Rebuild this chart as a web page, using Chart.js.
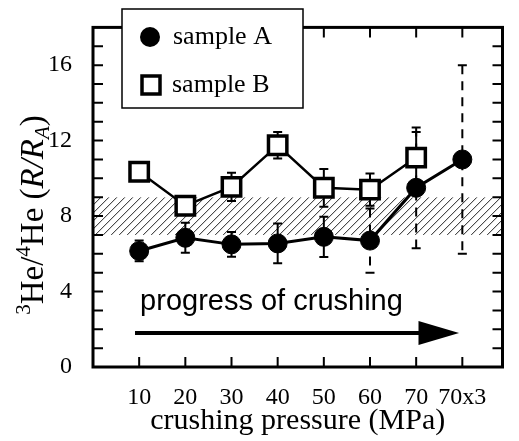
<!DOCTYPE html>
<html>
<head>
<meta charset="utf-8">
<script src="https://cdn.jsdelivr.net/npm/chart.js@4/dist/chart.umd.min.js"></script>
<style>
  body { margin: 0; background: #fff; }
  canvas { display: block; }
</style>
</head>
<body>
<canvas id="heChart" width="519" height="441"></canvas>
<script>
// crushing steps and measured 3He/4He ratios (R/RA)
const categories = ['10', '20', '30', '40', '50', '60', '70', '70x3'];
const sampleA = [6.15, 6.85, 6.5, 6.55, 6.9, 6.7, 9.5, 11.0];
const errA = [0.55, 0.8, 0.65, 1.05, 1.07, 1.7, 3.2, 5.0];
const dashedA = [false, false, false, false, false, true, true, true];
const sampleB = [10.35, 8.55, 9.55, 11.75, 9.5, 9.4, 11.1];
const errB = [0, 0, 0.75, 0.7, 1.0, 0.85, 1.35];
const yTicks = [0, 4, 8, 12, 16];
// atmospheric / MORB reference band
const bandLow = 7;
const bandHigh = 9;

const SERIF = "'Liberation Serif', 'Times New Roman', serif";
const SANS = "'Liberation Sans', Arial, sans-serif";

function toPoints(arr) {
    return arr.map(function (v, i) { return { x: i, y: v }; });
}

// hatch band + error bars, under the data
const underlayPlugin = {
    id: 'underlay',
    beforeDatasetsDraw: function (chart) {
        const ctx = chart.ctx;
        const area = chart.chartArea;
        const xs = chart.scales.x;
        const ys = chart.scales.y;

        // hatched band
        const yTop = ys.getPixelForValue(bandHigh);
        const yBot = ys.getPixelForValue(bandLow);
        ctx.save();
        ctx.beginPath();
        ctx.rect(area.left, yTop, area.right - area.left, yBot - yTop);
        ctx.clip();
        ctx.strokeStyle = '#222';
        ctx.lineWidth = 1;
        const h = yBot - yTop;
        for (let x = area.left - h; x < area.right + h; x += 8) {
            ctx.beginPath();
            ctx.moveTo(x, yBot);
            ctx.lineTo(x + h, yTop);
            ctx.stroke();
        }
        ctx.restore();

        // error bars
        function bar(i, v, e, dashed) {
            if (!e) return;
            const px = xs.getPixelForValue(i);
            const p1 = ys.getPixelForValue(v + e);
            const p2 = ys.getPixelForValue(v - e);
            ctx.save();
            ctx.strokeStyle = '#000';
            ctx.lineWidth = 2;
            ctx.setLineDash(dashed ? [9, 7] : []);
            ctx.beginPath();
            ctx.moveTo(px, p1);
            ctx.lineTo(px, p2);
            ctx.stroke();
            ctx.setLineDash([]);
            ctx.beginPath();
            ctx.moveTo(px - 4.5, p1); ctx.lineTo(px + 4.5, p1);
            ctx.moveTo(px - 4.5, p2); ctx.lineTo(px + 4.5, p2);
            ctx.stroke();
            ctx.restore();
        }
        sampleB.forEach(function (v, i) { bar(i, v, errB[i], false); });
        sampleA.forEach(function (v, i) { bar(i, v, errA[i], dashedA[i]); });

        // arrow + caption
        const ay = ys.getPixelForValue(1.8);
        const ax0 = xs.getPixelForValue(-0.09);
        const ax1 = xs.getPixelForValue(6.93);
        const ah = xs.getPixelForValue(6.05);
        ctx.save();
        ctx.fillStyle = '#000';
        ctx.strokeStyle = '#000';
        ctx.lineWidth = 4;
        ctx.beginPath();
        ctx.moveTo(ax0, ay);
        ctx.lineTo(ah + 2, ay);
        ctx.stroke();
        ctx.beginPath();
        ctx.moveTo(ah, ay - 12);
        ctx.lineTo(ax1, ay);
        ctx.lineTo(ah, ay + 12);
        ctx.closePath();
        ctx.fill();
        ctx.font = '29px ' + SANS;
        ctx.textBaseline = 'alphabetic';
        ctx.textAlign = 'left';
        ctx.fillText('progress of crushing', xs.getPixelForValue(0.02), ys.getPixelForValue(3.0));
        ctx.restore();
    }
};

// frame, inner ticks, y title, legend box
const framePlugin = {
    id: 'frame',
    afterDraw: function (chart) {
        const ctx = chart.ctx;
        const a = chart.chartArea;
        const xs = chart.scales.x;
        const ys = chart.scales.y;
        ctx.save();
        ctx.strokeStyle = '#000';

        ctx.lineWidth = 2;
        ctx.beginPath();
        for (let v = 1; v < 18; v++) {
            const py = ys.getPixelForValue(v);
            ctx.moveTo(a.left, py); ctx.lineTo(a.left + 10, py);
            ctx.moveTo(a.right, py); ctx.lineTo(a.right - 10, py);
        }
        categories.forEach(function (c, i) {
            const px = xs.getPixelForValue(i);
            ctx.moveTo(px, a.bottom); ctx.lineTo(px, a.bottom - 10);
            ctx.moveTo(px, a.top); ctx.lineTo(px, a.top + 10);
        });
        ctx.stroke();

        ctx.lineWidth = 3;
        ctx.strokeRect(a.left, a.top, a.right - a.left, a.bottom - a.top);

        // y axis title: 3He/4He (R/RA)
        const parts = [
            { t: '3', f: '21px ' + SERIF, dy: -13 },
            { t: 'He/', f: '33px ' + SERIF, dy: 0 },
            { t: '4', f: '21px ' + SERIF, dy: -13 },
            { t: 'He (', f: '33px ' + SERIF, dy: 0 },
            { t: 'R/R', f: 'italic 33px ' + SERIF, dy: 0 },
            { t: 'A', f: 'italic 21px ' + SERIF, dy: 6 },
            { t: ')', f: '33px ' + SERIF, dy: 0 }
        ];
        let total = 0;
        parts.forEach(function (p) { ctx.font = p.f; p.w = ctx.measureText(p.t).width; total += p.w; });
        ctx.translate(43, 215);
        ctx.rotate(-Math.PI / 2);
        ctx.fillStyle = '#000';
        ctx.textBaseline = 'alphabetic';
        let cx = -total / 2;
        parts.forEach(function (p) {
            ctx.font = p.f;
            ctx.fillText(p.t, cx, p.dy);
            cx += p.w;
        });
        ctx.setTransform(1, 0, 0, 1, 0, 0);

        // legend box
        ctx.fillStyle = '#fff';
        ctx.fillRect(122, 9, 181, 99);
        ctx.lineWidth = 1.5;
        ctx.strokeRect(122, 9, 181, 99);
        ctx.fillStyle = '#000';
        ctx.beginPath();
        ctx.arc(150, 37, 10, 0, Math.PI * 2);
        ctx.fill();
        ctx.lineWidth = 3.5;
        ctx.strokeRect(142, 76, 18, 18);
        ctx.font = '26px ' + SERIF;
        ctx.textBaseline = 'middle';
        ctx.fillText('sample A', 173, 37);
        ctx.fillText('sample B', 172, 85);
        ctx.restore();
    }
};

document.addEventListener("DOMContentLoaded", function () {
    const ctx = document.getElementById('heChart');
    new Chart(ctx, {
        type: 'line',
        data: {
            datasets: [{
                label: 'sample A',
                data: toPoints(sampleA),
                borderColor: '#000',
                borderWidth: 3,
                pointStyle: 'circle',
                pointRadius: 9.5,
                pointBackgroundColor: '#000',
                pointBorderColor: '#000',
                pointBorderWidth: 1
            }, {
                label: 'sample B',
                data: toPoints(sampleB),
                borderColor: '#000',
                borderWidth: 2.5,
                pointStyle: 'rect',
                pointRadius: 13,
                pointBackgroundColor: '#fff',
                pointBorderColor: '#000',
                pointBorderWidth: 3.5
            }]
        },
        options: {
            responsive: false,
            animation: false,
            layout: { padding: { top: 27, right: 2, left: 0, bottom: 0 } },
            plugins: {
                legend: { display: false },
                tooltip: { enabled: false }
            },
            scales: {
                x: {
                    type: 'linear',
                    min: -1,
                    max: 7.87,
                    grid: { display: false },
                    border: { display: false },
                    afterBuildTicks: function (scale) {
                        scale.ticks = categories.map(function (c, i) { return { value: i }; });
                    },
                    afterFit: function (scale) { scale.height = 74; },
                    ticks: {
                        color: '#000',
                        font: { family: SERIF, size: 24 },
                        padding: 8,
                        maxRotation: 0,
                        autoSkip: false,
                        callback: function (v) { return categories[v]; }
                    },
                    title: {
                        display: true,
                        text: 'crushing pressure (MPa)',
                        color: '#000',
                        font: { family: SERIF, size: 30 },
                        padding: { top: 0, bottom: 2 }
                    }
                },
                y: {
                    min: 0,
                    max: 18,
                    grid: { display: false },
                    border: { display: false },
                    afterBuildTicks: function (scale) {
                        scale.ticks = yTicks.map(function (v) { return { value: v }; });
                    },
                    afterFit: function (scale) { scale.width = 93; },
                    ticks: {
                        color: '#000',
                        font: { family: SERIF, size: 24 },
                        padding: 13
                    }
                }
            }
        },
        plugins: [underlayPlugin, framePlugin]
    });
});
</script>
</body>
</html>
